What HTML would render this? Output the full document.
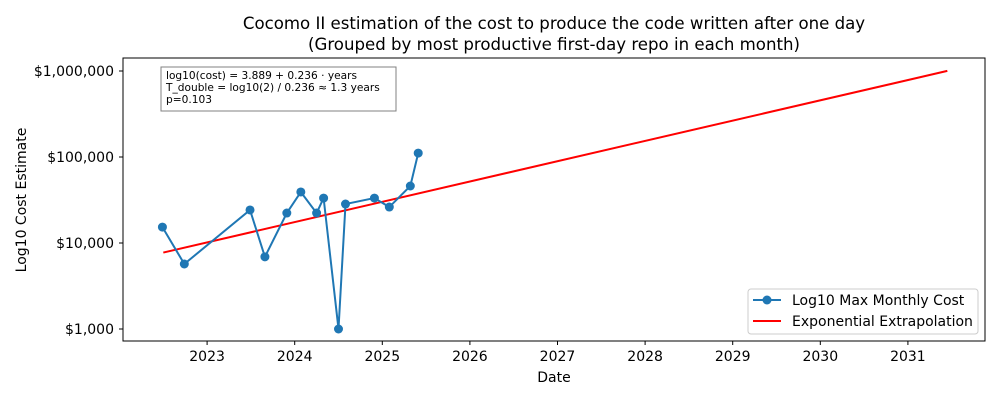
<!DOCTYPE html>
<html><head><meta charset="utf-8"><style>
body{margin:0;background:#fff;font-family:"DejaVu Sans","Liberation Sans",sans-serif}
svg text{font-family:"DejaVu Sans","Liberation Sans",sans-serif;fill:#000}
</style></head><body>
<svg id="c" width="1000" height="400">
<text x="554" y="29" font-size="16.6" text-anchor="middle">Cocomo II estimation of the cost to produce the code written after one day</text>
<text x="554" y="50" font-size="16.6" text-anchor="middle">(Grouped by most productive first-day repo in each month)</text>
<g id="ax"></g>
</svg>
<script>
const years=[2022.49,2022.74,2023.49,2023.66,2023.91,2024.07,2024.25,2024.33,2024.5,2024.58,2024.91,2025.08,2025.32,2025.41];
const costs=[15300,5700,24200,6900,22300,39200,22300,33300,1000,28400,33300,26200,46000,111000];
const yTicks=[1000,10000,100000,1000000];
const yTickLabels=["$1,000","$10,000","$100,000","$1,000,000"];
const xTicks=[2023,2024,2025,2026,2027,2028,2029,2030,2031];
const fitA=3.889, fitB=0.236, fitStart=2022.5, fitEnd=2031.45;
const L=123,R=985,T=58,B=341;
const X0=2022.04,X1=2031.88;
const x=v=>L+(v-X0)/(X1-X0)*(R-L);
const y=v=>329-(Math.log10(v)-3)*86;
const NS="http://www.w3.org/2000/svg";
const g=document.getElementById('ax');
function mk(t,a,txt){const e=document.createElementNS(NS,t);for(const k in a)e.setAttribute(k,a[k]);if(txt!==undefined)e.textContent=txt;g.appendChild(e);return e;}
let e;
e=mk('rect',{x:L,y:T,width:R-L,height:B-T,fill:'none',stroke:'#000','stroke-width':1});


yTicks.forEach((v,i)=>{
 e=mk('line',{x1:L-4,x2:L,y1:y(v),y2:y(v),stroke:'#000'});
 
 
 e=mk('text',{x:L-9,y:y(v)+5,'font-size':14,'text-anchor':'end'},yTickLabels[i]);
 
 
});
xTicks.forEach(v=>{
 e=mk('line',{x1:x(v),x2:x(v),y1:B,y2:B+4,stroke:'#000'});
 
 
 e=mk('text',{x:x(v),y:B+20,'font-size':14,'text-anchor':'middle'},String(v));
 
 
});
e=mk('text',{x:554,y:382,'font-size':14,'text-anchor':'middle'},'Date');


e=mk('text',{x:26,y:200,'font-size':14,'text-anchor':'middle',transform:'rotate(-90 26 200)'},'Log10 Cost Estimate');


const fy=t=>Math.pow(10,fitA+fitB*(t-fitStart));
e=mk('line',{x1:x(fitStart),y1:y(fy(fitStart)),x2:x(fitEnd),y2:y(fy(fitEnd)),stroke:'#ff0000','stroke-width':2});


e=mk('polyline',{points:years.map((t,i)=>x(t)+','+y(costs[i])).join(' '),fill:'none',stroke:'#1f77b4','stroke-width':2});


years.forEach((t,i)=>{
 e=mk('circle',{cx:x(t),cy:y(costs[i]),r:4.5,fill:'#1f77b4'});
 
 
});
e=mk('rect',{x:161,y:67,width:235,height:44,fill:'#fff',stroke:'#808080'});


[["log10(cost) = 3.889 + 0.236 · years",79],["T_double = log10(2) / 0.236 ≈ 1.3 years",91],["p=0.103",103]].forEach(a=>{
 e=mk('text',{x:166,y:a[1],'font-size':10.6},a[0]);
 
 
});
e=mk('rect',{x:748,y:289,width:230,height:45,rx:3,fill:'#fff',stroke:'#ccc'});


e=mk('line',{x1:753,x2:781,y1:300,y2:300,stroke:'#1f77b4','stroke-width':2});


e=mk('circle',{cx:767,cy:300,r:4.5,fill:'#1f77b4'});


e=mk('text',{x:792,y:305,'font-size':14},'Log10 Max Monthly Cost');


e=mk('line',{x1:753,x2:781,y1:321,y2:321,stroke:'#ff0000','stroke-width':2});


e=mk('text',{x:792,y:326,'font-size':14},'Exponential Extrapolation');


</script>
</body></html>
